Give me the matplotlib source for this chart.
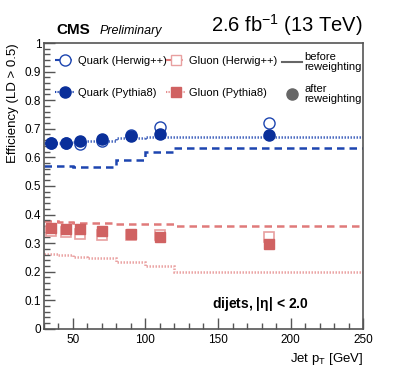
import numpy as np
import matplotlib.pyplot as plt
from matplotlib.ticker import MultipleLocator, FuncFormatter
from matplotlib.lines import Line2D

plt.rcParams.update({
    "font.family": ["Liberation Sans", "DejaVu Sans"],
    "mathtext.fontset": "custom",
    "mathtext.rm": "Liberation Sans",
    "mathtext.it": "Liberation Sans:italic",
    "mathtext.bf": "Liberation Sans:bold",
})

# ---------------- data ----------------
pt_edges = [30, 40, 50, 60, 80, 100, 120, 250]
pt_centers = [35, 45, 55, 70, 90, 110, 185]

# step histograms (before reweighting)
quark_herwig_hist = [0.571, 0.570, 0.565, 0.567, 0.592, 0.617, 0.633]
quark_pythia_hist = [0.650, 0.651, 0.652, 0.657, 0.666, 0.671, 0.670]
gluon_herwig_hist = [0.379, 0.375, 0.371, 0.370, 0.367, 0.367, 0.360]
gluon_pythia_hist = [0.261, 0.258, 0.253, 0.247, 0.235, 0.220, 0.199]

# markers (after reweighting)
quark_herwig_pts = [0.649, 0.651, 0.646, 0.657, 0.677, 0.707, 0.719]
quark_pythia_pts = [0.649, 0.651, 0.656, 0.663, 0.674, 0.680, 0.678]
gluon_herwig_pts = [0.342, 0.338, 0.332, 0.330, 0.330, 0.327, 0.321]
gluon_pythia_pts = [0.352, 0.351, 0.349, 0.344, 0.333, 0.323, 0.297]

BLUE = "#0a2f9a"
BLUE_LINE = "#1d45b0"
RED = "#d06262"
RED_LIGHT = "#e8a0a0"
RED_DASH = "#e07a7a"
RED_DOT = "#e58e8e"
GREY = "#666666"
DASH = (0, (3, 2))
DOT = (0, (0.6, 0.6))

fig = plt.figure(figsize=(4.07, 3.91), dpi=100)
ax = fig.add_axes([0.108, 0.159, 0.784, 0.731])

# histograms
ax.stairs(quark_herwig_hist, pt_edges, color=BLUE_LINE, lw=1.8, ls=DASH,
          baseline=None)
ax.stairs(quark_pythia_hist, pt_edges, color=BLUE_LINE, lw=1.8, ls=DOT,
          alpha=0.8, baseline=None)
ax.stairs(gluon_herwig_hist, pt_edges, color=RED_DASH, lw=1.8, ls=DASH,
          baseline=None)
ax.stairs(gluon_pythia_hist, pt_edges, color=RED_DOT, lw=1.8, ls=DOT,
          alpha=0.8, baseline=None)

# markers
ax.plot(pt_centers, gluon_herwig_pts, ls="none", marker="s", ms=7.5,
        mfc="white", mec=RED_LIGHT, mew=1.2, zorder=4)
ax.plot(pt_centers, gluon_pythia_pts, ls="none", marker="s", ms=7.5,
        mfc=RED, mec=RED, zorder=5)
ax.plot(pt_centers, quark_herwig_pts, ls="none", marker="o", ms=8,
        mfc="white", mec=BLUE_LINE, mew=1.0, zorder=4)
ax.plot(pt_centers, quark_pythia_pts, ls="none", marker="o", ms=8,
        mfc=BLUE, mec=BLUE, zorder=5)

ax.set_xlim(30, 250)
ax.set_ylim(0, 1)

ax.xaxis.set_major_locator(MultipleLocator(50))
ax.xaxis.set_minor_locator(MultipleLocator(10))
ax.yaxis.set_major_locator(MultipleLocator(0.1))
ax.yaxis.set_minor_locator(MultipleLocator(0.02))
ax.yaxis.set_major_formatter(FuncFormatter(lambda v, p: f"{v:g}"))
ax.tick_params(which="both", direction="in", top=False, right=False,
               labelsize=8.5, width=1.0, color="#555555")
ax.tick_params(which="major", length=8)
ax.tick_params(which="minor", length=4)
ax.tick_params(axis="y", pad=2)
for s in ax.spines.values():
    s.set_color("#555555")
    s.set_linewidth(1.2)

ax.set_ylabel("Efficiency (LD > 0.5)", fontsize=9.5, loc="top")
ax.set_xlabel(r"Jet p$_\mathrm{T}$ [GeV]", fontsize=9.5, loc="right")

# legend: three columns, drawn as three separate legends
h_qh = Line2D([], [], color=BLUE_LINE, ls=DASH, lw=1.5, marker="o",
              ms=8, mfc="white", mec=BLUE_LINE)
h_qp = Line2D([], [], color=BLUE_LINE, ls=DOT, lw=1.5,
              marker="o", ms=8, mfc=BLUE, mec=BLUE)
h_gh = Line2D([], [], color=RED_DASH, ls=DASH, lw=1.5, marker="s",
              ms=7.5, mfc="white", mec=RED_LIGHT)
h_gp = Line2D([], [], color=RED_DOT, ls=DOT, lw=1.5,
              marker="s", ms=7.5, mfc=RED, mec=RED)
h_before = Line2D([], [], color=GREY, lw=1.5)
h_after = Line2D([], [], color=GREY, ls="none", marker="o", ms=8)

leg_kw = dict(loc="upper left", frameon=False, fontsize=8,
              handlelength=1.8, handletextpad=0.25, borderpad=0,
              borderaxespad=0)
leg1 = ax.legend([h_qh, h_qp], ["Quark (Herwig++)", "Quark (Pythia8)"],
                 bbox_to_anchor=(0.034, 0.955), labelspacing=1.95, **leg_kw)
ax.add_artist(leg1)
leg2 = ax.legend([h_gh, h_gp], ["Gluon (Herwig++)", "Gluon (Pythia8)"],
                 bbox_to_anchor=(0.382, 0.955), labelspacing=1.95, **leg_kw)
ax.add_artist(leg2)
leg3 = ax.legend([h_before, h_after],
                 ["before\nreweighting", "after\nreweighting"],
                 bbox_to_anchor=(0.745, 0.968), labelspacing=1.1, **leg_kw)
for t in leg3.get_texts():
    t.set_linespacing(0.95)

ax.text(0.83, 0.087, r"dijets, |$\mathbf{\eta}$| < 2.0", transform=ax.transAxes,
        ha="right", va="center", fontsize=10, fontweight="bold")

fig.text(0.138, 0.905, "CMS", fontsize=11, fontweight="bold", va="bottom")
fig.text(0.245, 0.905, "Preliminary", fontsize=9, style="italic", va="bottom")
fig.text(0.892, 0.903, r"2.6 fb$^{-1}$ (13 TeV)", fontsize=14.5,
         ha="right", va="bottom")

fig.savefig("out.png", dpi=100)
